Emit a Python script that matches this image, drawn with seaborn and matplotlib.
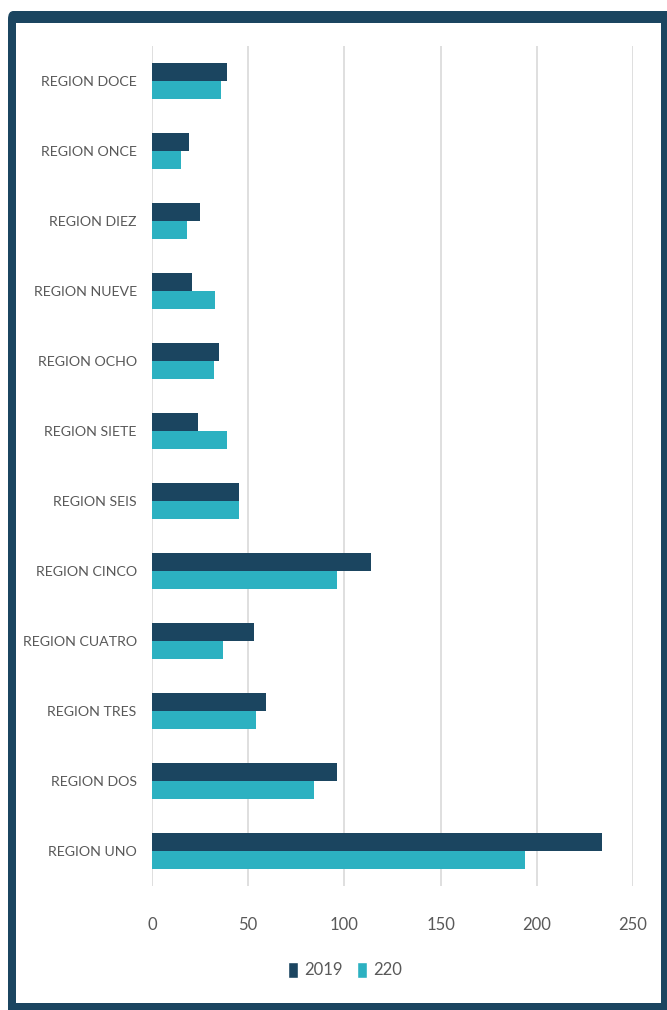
import matplotlib
matplotlib.use("Agg")
import matplotlib.pyplot as plt
from matplotlib.patches import Patch, FancyBboxPatch, Rectangle
import seaborn as sns
import pandas as pd

regions = ["REGION DOCE", "REGION ONCE", "REGION DIEZ", "REGION NUEVE", "REGION OCHO",
           "REGION SIETE", "REGION SEIS", "REGION CINCO", "REGION CUATRO", "REGION TRES",
           "REGION DOS", "REGION UNO"]
vals_2019 = [39, 19, 25, 21, 35, 24, 45, 114, 53, 59, 96, 234]
vals_220 = [36, 15, 18, 33, 32, 39, 45, 96, 37, 54, 84, 194]
series = ["2019", "220"]
xticks = [0, 50, 100, 150, 200, 250]

dark = "#1b4560"
teal = "#2cb1c1"
grey_txt = "#595959"

df = pd.DataFrame({
    "region": regions * 2,
    "serie": [series[0]] * len(regions) + [series[1]] * len(regions),
    "value": vals_2019 + vals_220,
})

sns.set_theme(style="white")
plt.rcParams["font.family"] = ["Lato", "DejaVu Sans"]

W, H = 667, 1010
fig = plt.figure(figsize=(W / 100, H / 100), dpi=100, facecolor="white")

# frame: dark backing with white inner panel
outer = FancyBboxPatch((8 / W, -0.02), (W - 8) / W + 0.02, (H - 11) / H + 0.02,
                       boxstyle="round,pad=0,rounding_size=0.008",
                       transform=fig.transFigure, facecolor=dark,
                       edgecolor="none", zorder=0)
inner = Rectangle((16 / W, (H - 1003) / H), (661 - 16) / W, (1003 - 23) / H,
                  transform=fig.transFigure, facecolor="white",
                  edgecolor="none", zorder=0.5)
fig.patches.extend([outer, inner])

ax = fig.add_axes([152 / W, 1 - 886 / H, (633 - 152) / W, (886 - 46) / H])
ax.set_zorder(2)
ax.patch.set_alpha(0)

sns.barplot(data=df, y="region", x="value", hue="serie", order=regions,
            hue_order=series, palette=[dark, teal], orient="h", width=0.52,
            ax=ax, legend=False, saturation=1, linewidth=0)

ax.set_xlim(0, 250)
ax.set_xticks(xticks)
ax.set_xticklabels([str(t) for t in xticks])
ax.xaxis.grid(True, color="#d9d9d9", linewidth=1.2)
ax.yaxis.grid(False)
ax.set_axisbelow(True)
for s in ax.spines.values():
    s.set_visible(False)
ax.set_xlabel("")
ax.set_ylabel("")
ax.tick_params(axis="x", length=0, pad=22, labelsize=12, labelcolor=grey_txt)
ax.tick_params(axis="y", length=0, pad=11, labelsize=10.2, labelcolor=grey_txt)

handles = [Patch(facecolor=dark, label=series[0]), Patch(facecolor=teal, label=series[1])]
leg = fig.legend(handles=handles, loc="center", bbox_to_anchor=(345 / W, 1 - 970 / H),
                 ncol=2, frameon=False, fontsize=12, labelcolor=grey_txt,
                 handlelength=0.6, handleheight=1.1, handletextpad=0.35, columnspacing=0.9)
leg.set_zorder(3)

fig.savefig("out.png", dpi=100, facecolor="white")
